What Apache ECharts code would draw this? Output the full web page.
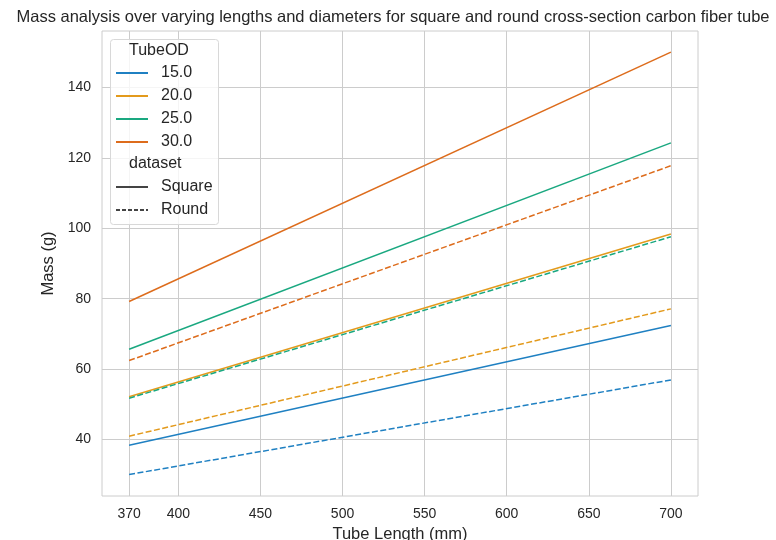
<!DOCTYPE html>
<html><head><meta charset="utf-8">
<script src="https://cdn.jsdelivr.net/npm/echarts@6/dist/echarts.min.js"></script>
<style>html,body{margin:0;padding:0;background:#fff}#c{width:776px;height:540px}</style>
</head><body><div id="c"></div>
<script>
const lengths = [370, 700];
const tubeODs = ['15.0', '20.0', '25.0', '30.0'];
const squareMass = {
  '15.0': [38.3, 72.4],
  '20.0': [52.1, 98.4],
  '25.0': [65.6, 124.3],
  '30.0': [79.2, 150.1]
};
const roundMass = {
  '15.0': [30.0, 56.9],
  '20.0': [40.9, 77.1],
  '25.0': [51.7, 97.6],
  '30.0': [62.4, 117.8]
};
const xTicks = [370, 400, 450, 500, 550, 600, 650, 700];
const yTicks = [40, 60, 80, 100, 120, 140];
const colors = {'15.0': '#1f80c2', '20.0': '#e39a1c', '25.0': '#1aa880', '30.0': '#dd6c1c'};

const font = 'Liberation Sans, Arial, sans-serif';
const series = [];
tubeODs.forEach(od => {
  series.push({name: od, type: 'line', symbol: 'none', silent: true,
    data: lengths.map((x, i) => [x, squareMass[od][i]]),
    lineStyle: {color: colors[od], width: 1.5, type: 'solid'}, itemStyle: {color: colors[od]}});
});
tubeODs.forEach(od => {
  series.push({name: od, type: 'line', symbol: 'none', silent: true,
    data: lengths.map((x, i) => [x, roundMass[od][i]]),
    lineStyle: {color: colors[od], width: 1.5, type: [6, 2.5]}, itemStyle: {color: colors[od]}});
});
series.push({name: 'Square', type: 'line', symbol: 'none', data: [],
  lineStyle: {color: '#444', width: 1.5, type: 'solid'}, itemStyle: {color: '#444'}});
series.push({name: 'Round', type: 'line', symbol: 'none', data: [],
  lineStyle: {color: '#444', width: 1.5, type: [4, 2]}, itemStyle: {color: '#444'}});

const legendCommon = {orient: 'vertical', left: 115, padding: 0, itemWidth: 32, itemHeight: 14, itemGap: 7,
  itemStyle: {opacity: 0},
  textStyle: {fontFamily: font, fontSize: 16, lineHeight: 16, color: '#262626', padding: [0, 0, 0, 8]}, selectedMode: false, z: 10};

const chart = echarts.init(document.getElementById('c'));
chart.setOption({
  animation: false,
  backgroundColor: '#fff',
  title: {text: 'Mass analysis over varying lengths and diameters for square and round cross-section carbon fiber tube',
    left: 388, textAlign: 'center', top: 4,
    textStyle: {fontFamily: font, fontSize: 16.5, fontWeight: 'normal', color: '#262626'}},
  grid: {left: 102, right: 78, top: 31, bottom: 44, show: true, borderColor: '#cccccc', borderWidth: 1,
    containLabel: false, outerBoundsMode: 'none'},
  legend: [
    Object.assign({}, legendCommon, {top: 65, data: tubeODs}),
    Object.assign({}, legendCommon, {top: 179, data: ['Square', 'Round']})
  ],
  graphic: [
    {type: 'rect', shape: {x: 110.5, y: 39.5, width: 108, height: 185, r: 3}, style: {fill: 'rgba(255,255,255,0.8)', stroke: '#d8d8d8', lineWidth: 1}, z: 3},
    {type: 'text', x: 129, y: 51, style: {text: 'TubeOD', fontFamily: font, fontSize: 16, fill: '#262626', textAlign: 'left', textVerticalAlign: 'middle'}, z: 12},
    {type: 'text', x: 129, y: 164, style: {text: 'dataset', fontFamily: font, fontSize: 16, fill: '#262626', textAlign: 'left', textVerticalAlign: 'middle'}, z: 12}
  ],
  xAxis: {type: 'value', min: 353.5, max: 716.5,
    name: 'Tube Length (mm)', nameLocation: 'middle', nameGap: 26,
    nameTextStyle: {fontFamily: font, fontSize: 16.5, color: '#262626'},
    axisLine: {show: false}, axisTick: {show: false, customValues: xTicks},
    axisLabel: {customValues: xTicks, fontFamily: font, fontSize: 14, color: '#262626', margin: 11},
    splitLine: {show: true, lineStyle: {color: '#cccccc', width: 1}}},
  yAxis: {type: 'value', min: 23.9, max: 156.1,
    name: 'Mass (g)', nameLocation: 'middle', nameGap: 40, nameRotate: 90,
    nameTextStyle: {fontFamily: font, fontSize: 16.5, color: '#262626'},
    axisLine: {show: false}, axisTick: {show: false, customValues: yTicks},
    axisLabel: {customValues: yTicks, fontFamily: font, fontSize: 14, color: '#262626', margin: 11},
    splitLine: {show: true, lineStyle: {color: '#cccccc', width: 1}}},
  series: series
});
</script></body></html>
